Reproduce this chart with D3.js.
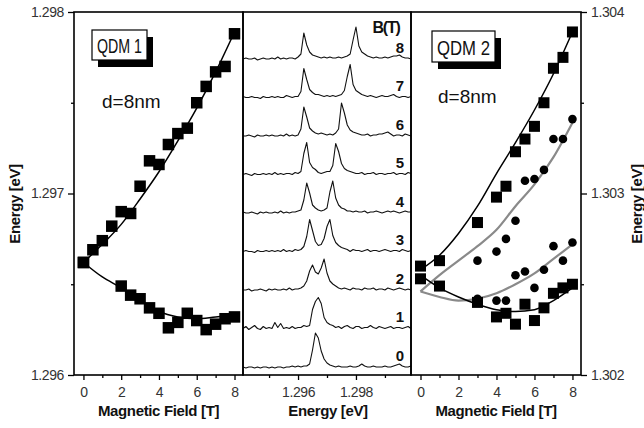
<!DOCTYPE html>
<html>
<head>
<meta charset="UTF-8">
<title>QDM magneto-PL</title>
<script src="https://cdn.jsdelivr.net/npm/d3@7"></script>
<style>
  body { margin: 0; background: #fff; }
  svg { display: block; font-family: "Liberation Sans", Arial, sans-serif; }
  .axis path { display: none; }
  .axis line { stroke: #000; stroke-width: 1.3px; }
  .axis .tick text { font-size: 14px; fill: #333; letter-spacing: -0.4px; }
  .frame { fill: none; stroke: #000; stroke-width: 1.6px; }
  .title { font-size: 15px; font-weight: bold; letter-spacing: -0.35px; fill: #111; }
  .fit { fill: none; stroke: #000; stroke-width: 1.5px; }
  .fit.gray { stroke: #8a8a8a; stroke-width: 2.2px; }
  .trace { fill: none; stroke: #111; stroke-width: 1.1px; stroke-linejoin: round; }
  .field-label { font-size: 15px; font-weight: bold; fill: #111; }
  .box { fill: #fff; stroke: #000; stroke-width: 1.2px; }
  .shadow { fill: #000; }
  .note { font-size: 19px; fill: #111; }
</style>
</head>
<body>
<svg id="chart" width="644" height="428"></svg>
<script>
// ---- QDM 1 (left panel) ----
const qdm1UpperB = [0, 0.5, 1, 1.5, 2, 2.5, 3, 3.5, 4, 4.5, 5, 5.5, 6, 6.5, 7, 7.5, 8];
const qdm1UpperE = [1.29662, 1.29669, 1.29674, 1.29682, 1.29690, 1.29689, 1.29704, 1.29718, 1.29716,
                    1.29727, 1.29733, 1.29736, 1.29750, 1.29759, 1.29767, 1.29770, 1.29788];
const qdm1LowerB = [0, 2, 2.5, 3, 3.5, 4, 4.5, 5, 5.5, 6, 6.5, 7, 7.5, 8];
const qdm1LowerE = [1.29662, 1.29649, 1.29644, 1.29642, 1.29637, 1.29634, 1.29626, 1.29629,
                    1.29634, 1.29630, 1.29625, 1.29628, 1.29631, 1.29632];
const fitB = [0, 1, 2, 3, 4, 5, 6, 7, 8];
const qdm1FitUpper = [1.29662, 1.29672, 1.29683, 1.29697, 1.29712, 1.29729, 1.29747, 1.29767, 1.29789];
const qdm1FitLower = [1.29662, 1.29654, 1.29648, 1.29641, 1.29635, 1.29632, 1.29631, 1.29632, 1.29633];

// ---- QDM 2 (right panel) ----
const qdm2SqUpperB = [0, 1, 3, 4, 4.5, 5, 5.5, 6, 6.5, 7, 7.5, 8];
const qdm2SqUpperE = [1.30260, 1.30263, 1.30284, 1.30298, 1.30304, 1.30323, 1.30330, 1.30337,
                      1.30350, 1.30369, 1.30375, 1.30389];
const qdm2SqLowerB = [0, 1, 3, 4, 4.5, 5, 5.5, 6, 6.5, 7, 7.5, 8];
const qdm2SqLowerE = [1.30253, 1.30249, 1.30240, 1.30232, 1.30234, 1.30228, 1.30239, 1.30230,
                      1.30237, 1.30245, 1.30248, 1.30250];
const qdm2CircUpperB = [3, 4, 4.5, 5, 5.5, 6, 6.5, 7, 7.5, 8];
const qdm2CircUpperE = [1.30263, 1.30268, 1.30275, 1.30285, 1.30307, 1.30308, 1.30313, 1.30330,
                        1.30330, 1.30341];
const qdm2CircLowerB = [3, 4, 4.5, 5, 5.5, 6, 6.5, 7, 7.5, 8];
const qdm2CircLowerE = [1.30242, 1.30241, 1.30241, 1.30255, 1.30257, 1.30248, 1.30258, 1.30271,
                        1.30263, 1.30273];
const qdm2FitUpper = [1.30258, 1.30266, 1.30278, 1.30293, 1.30311, 1.30328, 1.30346, 1.30366, 1.30389];
const qdm2FitLower = [1.30255, 1.30248, 1.30243, 1.30239, 1.30236, 1.30235, 1.30236, 1.30241, 1.30248];
const qdm2GrayUpper = [1.30246, 1.30255, 1.30263, 1.30271, 1.30280, 1.30293, 1.30305, 1.30320, 1.30339];
const qdm2GrayLower = [1.30246, 1.30243, 1.30241, 1.30242, 1.30245, 1.30250, 1.30256, 1.30264, 1.30272];

// ---- PL spectra (middle panel), sampled every 0.1 meV from 1.2941 eV ----
const spectrumStart = 1.2941;
const spectrumStep = 0.0001;
const spectrumFields = [0, 1, 2, 3, 4, 5, 6, 7, 8];
const spectrum0 = [1,0,1,1,0,1,0,1,1,0, 1,0,1,1,0,1,1,2,1,2, 1,2,2,4,18,35,30,17,9,5,
                   3,2,1,2,1,1,1,2,1,1, 2,4,2,1,1,2,1,1,1,2, 1,1,2,3,4,2,1,1,2];
const spectrum1 = [1,3,0,2,4,1,0,3,1,2, 1,7,2,6,1,2,1,3,1,2, 2,4,3,4,20,28,32,26,12,7,
                   5,4,2,3,1,3,4,2,1,3, 3,1,2,2,4,2,1,3,2,1, 2,3,1,2,2,1,2,3,1];
const spectrum2 = [1,1,2,0,1,1,2,1,0,2, 1,2,1,1,2,1,3,1,2,2, 3,5,10,20,26,19,17,23,32,18,
                   10,7,5,3,2,3,2,1,3,2, 2,1,3,2,2,3,1,2,2,1, 3,2,1,2,3,2,1,2,1];
const spectrum3 = [1,2,1,1,0,2,1,1,2,1, 2,1,2,1,3,1,2,1,3,2, 3,6,16,33,22,11,7,8,14,26,
                   33,17,10,7,5,4,3,1,3,2, 2,1,2,3,1,2,2,1,2,3, 2,1,2,2,1,3,2,1,2];
const spectrum4 = [2,1,1,2,1,0,2,1,2,1, 1,2,1,3,1,2,1,2,2,3, 4,14,31,21,9,6,4,3,4,6,
                   22,33,16,9,6,5,3,3,2,3, 2,2,3,1,2,2,3,2,1,2, 3,2,3,2,1,2,3,2,2];
const spectrum5 = [1,2,1,0,2,1,1,2,1,2, 1,3,1,2,1,2,2,1,3,2, 4,22,33,13,8,6,3,2,3,4,
                   4,10,32,24,12,7,5,4,3,2, 2,3,1,2,2,3,1,2,2,1, 2,2,3,1,2,2,1,3,2];
const spectrum6 = [1,1,2,1,0,2,1,1,2,1, 2,1,1,2,1,3,1,2,1,2, 8,30,20,9,6,4,3,4,3,2,
                   3,2,4,8,34,24,12,7,5,4, 3,2,2,3,1,2,2,3,3,4, 5,3,1,2,2,1,3,2,1];
const spectrum7 = [2,1,1,2,1,1,0,2,1,1, 2,1,2,1,1,3,2,1,2,2, 7,30,19,9,6,4,4,3,2,3,
                   2,3,2,3,4,8,22,34,14,8, 6,4,3,2,3,2,1,2,3,2, 2,3,4,2,1,2,2,1,2];
const spectrum8 = [1,2,1,1,2,0,1,2,1,1, 2,1,3,1,2,1,2,2,1,3, 6,27,15,8,5,4,3,2,3,2,
                   3,2,2,3,2,3,4,6,20,33, 14,8,6,4,3,2,3,2,2,3, 2,3,4,4,5,3,2,2,1];
const spectra = [spectrum0, spectrum1, spectrum2, spectrum3, spectrum4,
                 spectrum5, spectrum6, spectrum7, spectrum8];

const majorB = [0, 2, 4, 6, 8];
const minorB = [1, 3, 5, 7];
const majorE1 = [1.296, 1.297, 1.298];
const minorE1 = [1.2965, 1.2975];
const majorE2 = [1.302, 1.303, 1.304];
const minorE2 = [1.3025, 1.3035];
const majorSpec = [1.296, 1.298];
const minorSpec = [1.295, 1.297, 1.299];

// ---- layout ----
const plotTop = 12, plotBottom = 375;
const leftX = [74, 243], midX = [243, 411], rightX = [411, 581];
const traceGap = 38.5;

const svg = d3.select('#chart');

const xLeft = d3.scaleLinear().domain([-0.5, 8.45]).range(leftX);
const yLeft = d3.scaleLinear().domain([1.296, 1.298]).range([plotBottom, plotTop]);
const xMid = d3.scaleLinear().domain([1.2941, 1.2999]).range(midX);
const yMid = d3.scaleLinear().domain([-7, 356]).range([plotBottom, plotTop]);
const xRight = d3.scaleLinear().domain([-0.5, 8.45]).range(rightX);
const yRight = d3.scaleLinear().domain([1.302, 1.304]).range([plotBottom, plotTop]);

function bottomAxis(x, major, minor, fmt) {
  svg.append('g').attr('class', 'axis').attr('transform', `translate(0,${plotBottom})`)
    .call(d3.axisBottom(x).tickValues(minor).tickSize(3).tickFormat(''));
  svg.append('g').attr('class', 'axis').attr('transform', `translate(0,${plotBottom})`)
    .call(d3.axisBottom(x).tickValues(major).tickSize(5).tickPadding(7).tickFormat(fmt));
}

bottomAxis(xLeft, majorB, minorB, d3.format('d'));
bottomAxis(xMid, majorSpec, minorSpec, d3.format('.3f'));
bottomAxis(xRight, majorB, minorB, d3.format('d'));

svg.append('g').attr('class', 'axis').attr('transform', `translate(${leftX[0]},0)`)
  .call(d3.axisLeft(yLeft).tickValues(minorE1).tickSize(3).tickFormat(''));
svg.append('g').attr('class', 'axis').attr('transform', `translate(${leftX[0]},0)`)
  .call(d3.axisLeft(yLeft).tickValues(majorE1).tickSize(6).tickPadding(4).tickFormat(d3.format('.3f')));
svg.append('g').attr('class', 'axis').attr('transform', `translate(${rightX[1]},0)`)
  .call(d3.axisRight(yRight).tickValues(minorE2).tickSize(3).tickFormat(''));
svg.append('g').attr('class', 'axis').attr('transform', `translate(${rightX[1]},0)`)
  .call(d3.axisRight(yRight).tickValues(majorE2).tickSize(6).tickPadding(4).tickFormat(d3.format('.3f')));

// clip paths
[['clipL', leftX], ['clipM', midX], ['clipR', rightX]].forEach(([id, xr]) => {
  svg.append('clipPath').attr('id', id).append('rect')
    .attr('x', xr[0]).attr('y', plotTop).attr('width', xr[1] - xr[0]).attr('height', plotBottom - plotTop);
});

// ---- left panel ----
const gL = svg.append('g').attr('clip-path', 'url(#clipL)');
const lineL = d3.line().x((d, i) => xLeft(fitB[i])).y(d => yLeft(d)).curve(d3.curveMonotoneX);
gL.append('path').attr('class', 'fit').attr('d', lineL(qdm1FitUpper));
gL.append('path').attr('class', 'fit').attr('d', lineL(qdm1FitLower));

function squares(g, xs, ys, bs, es, size) {
  g.selectAll(null).data(d3.zip(bs, es)).join('rect')
    .attr('x', d => xs(d[0]) - size / 2).attr('y', d => ys(d[1]) - size / 2)
    .attr('width', size).attr('height', size).attr('fill', '#000');
}
function circles(g, xs, ys, bs, es, r) {
  g.selectAll(null).data(d3.zip(bs, es)).join('circle')
    .attr('cx', d => xs(d[0])).attr('cy', d => ys(d[1])).attr('r', r).attr('fill', '#000');
}
squares(gL, xLeft, yLeft, qdm1UpperB, qdm1UpperE, 11.5);
squares(gL, xLeft, yLeft, qdm1LowerB, qdm1LowerE, 11.5);

// ---- middle panel ----
const gM = svg.append('g').attr('clip-path', 'url(#clipM)');
spectra.forEach((s, k) => {
  const off = spectrumFields[k] * traceGap;
  const line = d3.line()
    .x((d, i) => xMid(spectrumStart + i * spectrumStep))
    .y(d => yMid(off + d));
  gM.append('path').attr('class', 'trace').attr('d', line(s));
  svg.append('text').attr('class', 'field-label')
    .attr('x', 400).attr('y', yMid(off) - 7.5).attr('text-anchor', 'middle')
    .text(spectrumFields[k]);
});
svg.append('text').attr('class', 'field-label').attr('x', 386).attr('y', 33)
  .attr('text-anchor', 'middle').style('font-size', '16px').style('letter-spacing', '-1.2px').text('B(T)');

// ---- right panel ----
const gR = svg.append('g').attr('clip-path', 'url(#clipR)');
const lineR = d3.line().x((d, i) => xRight(fitB[i])).y(d => yRight(d)).curve(d3.curveMonotoneX);
gR.append('path').attr('class', 'fit gray').attr('d', lineR(qdm2GrayUpper));
gR.append('path').attr('class', 'fit gray').attr('d', lineR(qdm2GrayLower));
gR.append('path').attr('class', 'fit').attr('d', lineR(qdm2FitUpper));
gR.append('path').attr('class', 'fit').attr('d', lineR(qdm2FitLower));
circles(gR, xRight, yRight, qdm2CircUpperB, qdm2CircUpperE, 4.3);
circles(gR, xRight, yRight, qdm2CircLowerB, qdm2CircLowerE, 4.3);
squares(gR, xRight, yRight, qdm2SqUpperB, qdm2SqUpperE, 11);
squares(gR, xRight, yRight, qdm2SqLowerB, qdm2SqLowerE, 11);

// ---- frames ----
[leftX, midX, rightX].forEach(xr => {
  svg.append('rect').attr('class', 'frame')
    .attr('x', xr[0]).attr('y', plotTop).attr('width', xr[1] - xr[0]).attr('height', plotBottom - plotTop);
});

// ---- labels in panels ----
function tagBox(x, y, w, h, label, textW) {
  svg.append('rect').attr('class', 'shadow').attr('x', x + 6).attr('y', y + 7).attr('width', w).attr('height', h);
  svg.append('rect').attr('class', 'box').attr('x', x).attr('y', y).attr('width', w).attr('height', h);
  svg.append('text').attr('class', 'note').attr('x', x + w / 2).attr('y', y + h / 2 + 8)
    .attr('text-anchor', 'middle').attr('textLength', textW).attr('lengthAdjust', 'spacingAndGlyphs')
    .style('font-size', '21px').text(label);
}
tagBox(92, 30, 55, 30, 'QDM 1', 45);
tagBox(432, 31, 63, 31, 'QDM 2', 53);
svg.append('text').attr('class', 'note').attr('x', 102).attr('y', 108).text('d=8nm');
svg.append('text').attr('class', 'note').attr('x', 438).attr('y', 103).text('d=8nm');

// ---- axis titles ----
svg.append('text').attr('class', 'title').attr('x', 158.5).attr('y', 416).attr('text-anchor', 'middle').text('Magnetic Field [T]');
svg.append('text').attr('class', 'title').attr('x', 328).attr('y', 416).attr('text-anchor', 'middle').text('Energy [eV]');
svg.append('text').attr('class', 'title').attr('x', 496).attr('y', 416).attr('text-anchor', 'middle').text('Magnetic Field [T]');
svg.append('text').attr('class', 'title').attr('text-anchor', 'middle')
  .attr('transform', 'translate(20,204) rotate(-90)').text('Energy [eV]');
svg.append('text').attr('class', 'title').attr('text-anchor', 'middle')
  .attr('transform', 'translate(642,204) rotate(-90)').text('Energy [eV]');
</script>
</body>
</html>
